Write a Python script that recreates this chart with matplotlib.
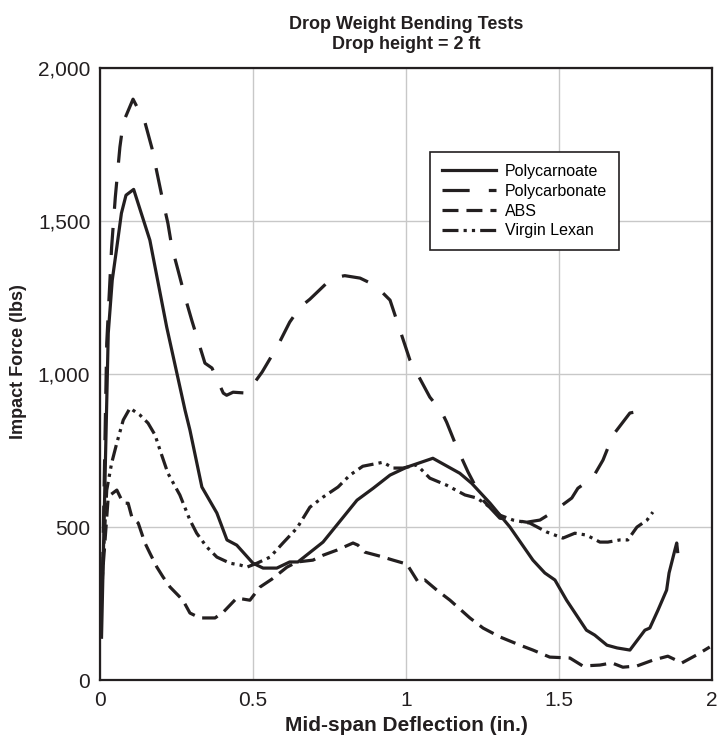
import matplotlib.pyplot as plt

plt.rcParams['font.family'] = ['Liberation Sans', 'DejaVu Sans']

# Polycarnoate (solid)
pcn_x = [0.005, 0.027, 0.04, 0.055, 0.07, 0.085, 0.11, 0.163, 0.218, 0.278, 0.294, 0.333,
         0.382, 0.415, 0.447, 0.5, 0.533, 0.578, 0.62, 0.647, 0.729, 0.84, 0.893, 0.948,
         1.003, 1.088, 1.176, 1.215, 1.275, 1.34, 1.415, 1.454, 1.487, 1.525, 1.59, 1.617,
         1.657, 1.69, 1.732, 1.781, 1.797, 1.824, 1.852, 1.86, 1.879, 1.885, 1.888]
pcn_y = [140, 1134, 1307, 1415, 1526, 1585, 1604, 1438, 1154, 882, 817, 631,
         546, 458, 441, 382, 366, 366, 386, 386, 451, 588, 627, 670,
         696, 725, 676, 643, 578, 500, 392, 350, 327, 261, 163, 147,
         114, 105, 98, 163, 170, 229, 294, 350, 425, 448, 420]

# Polycarbonate (long dash)
pcb_x = [0.008, 0.022, 0.038, 0.05, 0.065, 0.076, 0.108, 0.147, 0.17, 0.186, 0.203, 0.222,
         0.235, 0.255, 0.278, 0.3, 0.327, 0.343, 0.366, 0.403, 0.414, 0.435, 0.48, 0.53,
         0.582, 0.62, 0.654, 0.686, 0.758, 0.8, 0.85, 0.9, 0.948, 1.013, 1.078, 1.117,
         1.133, 1.166, 1.203, 1.25, 1.307, 1.35, 1.395, 1.438, 1.48, 1.542, 1.562, 1.59,
         1.608, 1.644, 1.677, 1.732, 1.748, 1.755]
pcb_y = [330, 1101, 1415, 1578, 1742, 1823, 1899, 1823, 1738, 1660, 1578, 1493,
         1415, 1340, 1252, 1176, 1088, 1036, 1020, 938, 931, 941, 938, 1007,
         1095, 1170, 1219, 1245, 1314, 1322, 1314, 1290, 1242, 1046, 925, 876,
         843, 761, 680, 590, 529, 523, 516, 523, 549, 595, 627, 647,
         657, 719, 801, 873, 876, 899]

# ABS (dashed)
abs_x = [0.005, 0.027, 0.055, 0.076, 0.092, 0.104, 0.125, 0.147, 0.163, 0.186, 0.206, 0.229,
         0.271, 0.294, 0.327, 0.376, 0.403, 0.447, 0.49, 0.523, 0.562, 0.611, 0.644, 0.696,
         0.729, 0.775, 0.827, 0.843, 0.866, 0.915, 0.958, 1.003, 1.04, 1.062, 1.101, 1.144,
         1.209, 1.252, 1.307, 1.373, 1.415, 1.47, 1.536, 1.578, 1.634, 1.673, 1.709, 1.755,
         1.807, 1.856, 1.902, 1.95, 1.993]
abs_y = [300, 600, 621, 578, 578, 533, 513, 448, 415, 369, 337, 304,
         261, 219, 203, 203, 222, 268, 261, 304, 330, 369, 386, 392,
         408, 425, 448, 441, 418, 405, 392, 379, 320, 327, 294, 261,
         203, 170, 141, 114, 98, 75, 72, 46, 49, 56, 42, 46,
         65, 78, 56, 82, 108]

# Virgin Lexan (dash-dot-dot)
vl_x = [0.008, 0.022, 0.038, 0.055, 0.076, 0.098, 0.131, 0.157, 0.18, 0.196, 0.222, 0.261,
        0.294, 0.316, 0.349, 0.382, 0.425, 0.458, 0.48, 0.513, 0.556, 0.598, 0.644, 0.686,
        0.729, 0.778, 0.817, 0.859, 0.925, 0.958, 0.99, 1.036, 1.078, 1.133, 1.193, 1.232,
        1.275, 1.307, 1.35, 1.405, 1.46, 1.513, 1.552, 1.59, 1.634, 1.66, 1.699, 1.725,
        1.755, 1.788, 1.807]
vl_y = [350, 621, 709, 775, 850, 889, 866, 840, 801, 752, 676, 605,
        523, 480, 435, 402, 382, 376, 369, 382, 402, 448, 497, 565,
        598, 631, 670, 699, 712, 693, 693, 703, 660, 637, 605, 595,
        565, 539, 523, 513, 484, 464, 480, 474, 451, 451, 458, 458,
        500, 523, 549]

ink = '#231f20'

fig, ax = plt.subplots(figsize=(7.22, 7.42), dpi=100)
fig.subplots_adjust(left=0.1385, right=0.986, top=0.908, bottom=0.0835)

ax.plot(pcn_x, pcn_y, color=ink, linewidth=2.3, linestyle='-', label='Polycarnoate')
ax.plot(pcb_x, pcb_y, color=ink, linewidth=2.3, linestyle=(0, (8.5, 6)), label='Polycarbonate')
ax.plot(abs_x, abs_y, color=ink, linewidth=2.3, linestyle=(0, (5, 2.5)), label='ABS')
ax.plot(vl_x, vl_y, color=ink, linewidth=2.3,
        linestyle=(0, (5, 1.6, 1, 1.6, 1, 1.6)), label='Virgin Lexan')

ax.set_xlim(0, 2)
ax.set_ylim(0, 2000)
ax.set_xticks([0, 0.5, 1, 1.5, 2])
ax.set_xticklabels(['0', '0.5', '1', '1.5', '2'])
ax.set_yticks([0, 500, 1000, 1500, 2000])
ax.set_yticklabels(['0', '500', '1,000', '1,500', '2,000'])
ax.tick_params(length=0, labelsize=15, colors=ink)
ax.tick_params(axis='y', pad=7)
ax.tick_params(axis='x', pad=8)
ax.grid(color='#c8c8c8', linewidth=1)
ax.set_axisbelow(True)
for s in ax.spines.values():
    s.set_color(ink)
    s.set_linewidth(1.6)

ax.set_title('Drop Weight Bending Tests\nDrop height = 2 ft', fontsize=13,
             fontweight='bold', color=ink, pad=14, linespacing=1.25)
ax.set_xlabel('Mid-span Deflection (in.)', fontsize=15, fontweight='bold',
              color=ink, labelpad=4)
ax.set_ylabel('Impact Force (lbs)', fontsize=13, fontweight='bold', color=ink)
ax.yaxis.set_label_coords(-0.12, 0.52)

leg = ax.legend(loc='upper left', bbox_to_anchor=(0.539, 0.863), borderaxespad=0,
                fontsize=11.5, fancybox=False, edgecolor=ink, framealpha=1,
                handlelength=3.4, borderpad=0.75, labelspacing=0.3, handletextpad=0.55)
leg.get_frame().set_linewidth(1.2)

fig.savefig('out.png', dpi=100)
